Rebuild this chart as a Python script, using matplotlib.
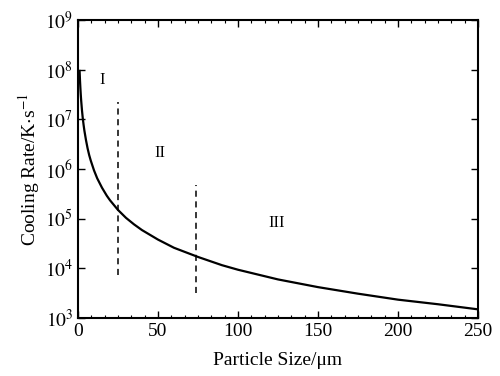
import numpy as np
import matplotlib
matplotlib.use("Agg")
import matplotlib.pyplot as plt
from matplotlib.ticker import FixedLocator, MultipleLocator, FuncFormatter

plt.rcParams['font.family'] = ['Liberation Serif', 'DejaVu Serif']
plt.rcParams['mathtext.fontset'] = 'stix'

# curve
size = [1, 1.25, 1.5, 1.75, 2, 2.5, 3, 3.5, 4, 5, 6, 7, 8, 10, 12, 15, 18,
        20, 25, 30, 35, 40, 50, 60, 75, 90, 100, 125, 150, 175, 200, 225, 250]
rate = [9.4e7, 6.0e7, 4.2e7, 3.07e7, 2.35e7, 1.5e7, 1.04e7, 7.7e6, 5.9e6,
        3.8e6, 2.6e6, 1.9e6, 1.47e6, 9.4e5, 6.5e5, 4.2e5, 2.9e5, 2.35e5,
        1.5e5, 1.04e5, 7.7e4, 5.9e4, 3.8e4, 2.6e4, 1.7e4, 1.16e4, 9.4e3,
        6.0e3, 4.2e3, 3.1e3, 2.35e3, 1.9e3, 1.5e3]

# region borders (x, y bottom, y top)
border_x = [25, 73.5]
border_lo = [7.4e3, 3.2e3]
border_hi = [2.2e7, 4.8e5]

# region labels
region_names = ['I', 'II', 'III']
region_x = [15, 51, 124]
region_y = [6.2e7, 2.1e6, 8.3e4]

fig = plt.figure(figsize=(5, 3.76), dpi=100)
ax = fig.add_axes([0.156, 0.154, 0.8, 0.793])

ax.plot(size, rate, color='black', lw=1.6)
for x, lo, hi in zip(border_x, border_lo, border_hi):
    ax.plot([x, x], [lo, hi], color='black', lw=1.1, ls=(0, (4, 3)))
for name, x, y in zip(region_names, region_x, region_y):
    ax.text(x, y, name, fontsize=12, ha='center', va='center')

ax.set_yscale('log')
ax.set_xlim(0, 250)
ax.set_ylim(1e3, 1e9)
ax.xaxis.set_major_locator(MultipleLocator(50))
ax.xaxis.set_minor_locator(MultipleLocator(50 / 6))
ax.yaxis.set_major_locator(FixedLocator([10.0 ** k for k in range(3, 10)]))
ax.yaxis.set_minor_locator(FixedLocator([]))
ax.yaxis.set_major_formatter(FuncFormatter(lambda v, p: r'$10^{%d}$' % round(np.log10(v))))

ax.tick_params(which='both', direction='in', top=True, right=True, labelsize=14)
ax.tick_params(which='major', length=5, width=1)
ax.tick_params(which='minor', length=2.5, width=0.8)
for s in ax.spines.values():
    s.set_linewidth(1.5)

ax.set_xlabel('Particle Size/μm', fontsize=14, labelpad=9)
ax.set_ylabel(r'Cooling Rate/K$\cdot$s$^{-1}$', fontsize=14, labelpad=2)

fig.savefig('out.png', dpi=100)
